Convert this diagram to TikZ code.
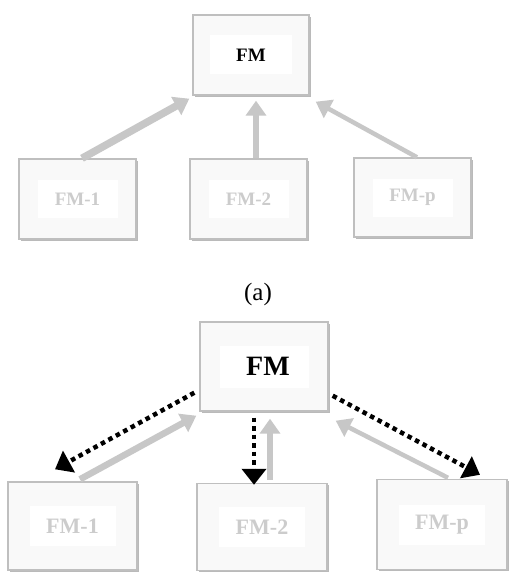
\documentclass[tikz,border=0pt]{standalone}
\usepackage{fontspec}
\setmainfont{Liberation Serif}
\usetikzlibrary{arrows.meta,shadows,calc}
\tikzset{
  box/.style={draw=gray!50, line width=1.4pt, fill=black!2.5, inner sep=0pt,
    drop shadow={shadow xshift=1.8pt, shadow yshift=-1.8pt, fill=black!45, opacity=0.6}},
  innerwhite/.style 2 args={path picture={\fill[white]
    ([xshift=-#1/2, yshift=-#2/2]path picture bounding box.center) rectangle
    ([xshift=#1/2, yshift=#2/2]path picture bounding box.center);}},
  sublbl/.style={text=black!20, font=\fontsize{#1}{#1}\selectfont\bfseries},
  mainlbl/.style={text=black, font=\fontsize{#1}{#1}\selectfont\bfseries},
  garrow/.style={draw=black!22, -{Triangle[length=15pt,width=20pt]}},
  darrow/.style={draw=black, line width=4.5pt, dash pattern=on 4.5pt off 4pt,
    -{Triangle[length=16pt,width=24pt]}},
}
\begin{document}
\begin{tikzpicture}[x=1pt,y=-1pt]
\useasboundingbox[fill=white] (0,0) rectangle (508,572);
% (a)
\node[box, innerwhite={82pt}{39pt}, minimum width=116pt, minimum height=80pt, mainlbl=19pt] (fa) at (251,55) {FM};
\node[box, innerwhite={80pt}{38pt}, minimum width=117pt, minimum height=80pt, sublbl=19pt] (a1) at (77.5,199) {FM-1};
\node[box, innerwhite={80pt}{38pt}, minimum width=117pt, minimum height=80pt, sublbl=19pt] (a2) at (248.5,199) {FM-2};
\node[box, innerwhite={80pt}{38pt}, minimum width=117pt, minimum height=79pt, sublbl=19pt] (ap) at (412.5,197.5) {FM-p};
\draw[garrow, line width=7.5pt] ($(a1.north)+(4.5,0)$) -- ($(fa.south west)+(-3,3)$);
\draw[garrow, line width=6.5pt] ($(a2.north)+(7.5,0)$) -- ($(fa.south)+(5,5)$);
\draw[garrow, line width=4.5pt] ($(ap.north)+(4.5,0)$) -- ($(fa.south east)+(6,6)$);
\node[font=\fontsize{25}{25}\selectfont] (lbla) at (258,294) {(a)};
% (b)
\node[box, innerwhite={89pt}{42pt}, minimum width=128pt, minimum height=89pt, mainlbl=28pt, text width=128pt, align=center] (fb) at (264,366.5) {\hspace*{8pt}FM};
\node[box, innerwhite={86pt}{40pt}, minimum width=129pt, minimum height=88pt, sublbl=22pt] (b1) at (72.5,526) {FM-1};
\node[box, innerwhite={86pt}{40pt}, minimum width=130pt, minimum height=87pt, sublbl=22pt] (b2) at (262,527) {FM-2};
\node[box, innerwhite={86pt}{40pt}, minimum width=130pt, minimum height=90pt, sublbl=22pt] (bp) at (442,524.5) {FM-p};
\draw[garrow, line width=6.5pt] ($(b1.north)+(7.5,-2)$) -- ($(fb.south west)+(-3,4)$);
\draw[garrow, line width=5.5pt] ($(b2.north)+(8,-3)$) -- ($(fb.south)+(6,7)$);
\draw[garrow, line width=4.5pt] ($(bp.north)+(6,-1)$) -- ($(fb.south east)+(7,9)$);
\draw[darrow] ($(fb.south west)+(-5,-19)$) -- ($(b1.north)+(-17.5,-12)$);
\draw[darrow] ($(fb.south)+(-10,6)$) -- ($(b2.north)+(-8,2)$);
\draw[darrow] ($(fb.south east)+(4,-16)$) -- ($(bp.north)+(38,-4)$);
\end{tikzpicture}
\end{document}
